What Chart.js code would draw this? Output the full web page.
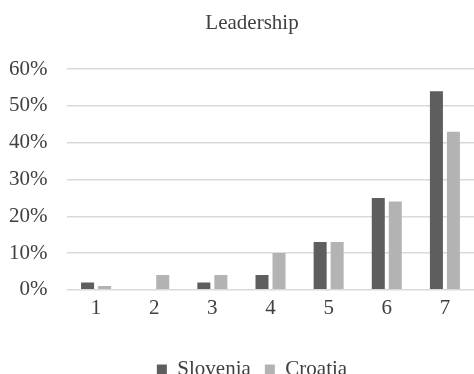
<!DOCTYPE html>
<html>
<head>
<meta charset="utf-8">
<script src="https://cdn.jsdelivr.net/npm/chart.js@4/dist/chart.umd.min.js"></script>
<style>
  html, body { margin: 0; padding: 0; background: #ffffff; }
  #wrap { width: 474px; height: 374px; }
</style>
</head>
<body>
<div id="wrap"><canvas id="chart" width="474" height="374"></canvas></div>
<script>
// Rating scale 1–7 and share of answers per country (percent)
const categories = ['1', '2', '3', '4', '5', '6', '7'];
const slovenia = [2, 0, 2, 4, 13, 25, 54];
const croatia = [1, 4, 4, 10, 13, 24, 43];
const yTicks = [0, 10, 20, 30, 40, 50, 60];

const serif = "'Liberation Serif', 'Times New Roman', serif";
const textColor = '#404040';
Chart.defaults.font.family = serif;
Chart.defaults.font.size = 21;
Chart.defaults.color = textColor;

new Chart(document.getElementById('chart'), {
  type: 'bar',
  data: {
    labels: categories,
    datasets: [
      { label: 'Slovenia', data: slovenia, backgroundColor: '#5e5e5e' },
      { label: 'Croatia', data: croatia, backgroundColor: '#b3b3b3' }
    ]
  },
  options: {
    responsive: false,
    animation: false,
    devicePixelRatio: 1,
    datasets: { bar: { categoryPercentage: 0.585, barPercentage: 0.765 } },
    layout: { padding: { left: 30, right: 0, top: 0, bottom: -16 } },
    plugins: {
      tooltip: { enabled: false },
      title: {
        display: true,
        text: 'Leadership',
        color: textColor,
        font: { family: serif, size: 21, weight: 'normal' },
        padding: { top: 11, bottom: 33 }
      },
      legend: {
        position: 'bottom',
        labels: {
          color: textColor,
          font: { family: serif, size: 21 },
          boxWidth: 10,
          boxHeight: 10,
          padding: 14
        }
      }
    },
    scales: {
      x: {
        grid: { display: false, drawTicks: false },
        border: { display: false },
        afterFit: (axis) => { axis.height += 18; },
        ticks: { color: textColor, font: { family: serif, size: 21 }, padding: 6 }
      },
      y: {
        min: 0,
        max: 60,
        afterBuildTicks: (axis) => { axis.ticks = yTicks.map(v => ({ value: v })); },
        afterFit: (axis) => { axis.width = 37; },
        grid: { color: '#d9d9d9', lineWidth: 1.5, drawTicks: false },
        border: { display: false },
        ticks: {
          color: textColor,
          font: { family: serif, size: 21 },
          // right-aligned labels ending 20px left of the plot area
          mirror: true,
          crossAlign: 'far',
          padding: -58,
          callback: (v) => v + '%'
        }
      }
    }
  }
});
</script>
</body>
</html>
